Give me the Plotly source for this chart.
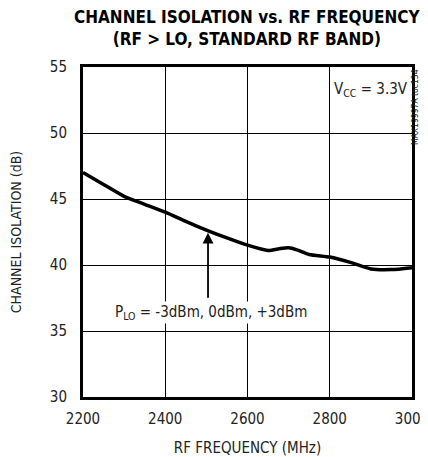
import plotly.graph_objects as go

freq = [2200, 2250, 2300, 2350, 2400, 2450, 2500, 2550, 2600, 2650, 2680, 2700, 2720, 2750, 2800, 2850, 2900, 2950, 3000]
isolation = [47.0, 46.1, 45.2, 44.6, 44.0, 43.3, 42.65, 42.05, 41.5, 41.1, 41.25, 41.3, 41.15, 40.8, 40.6, 40.2, 39.7, 39.65, 39.8]

x_ticks = [2200, 2400, 2600, 2800, 3000]
y_ticks = [30, 35, 40, 45, 50, 55]

FONT = "DejaVu Sans Condensed, Liberation Sans Narrow, sans-serif"

fig = go.Figure()
fig.add_trace(go.Scatter(x=freq, y=isolation, mode="lines",
                         line=dict(color="black", width=3.5, shape="spline", smoothing=0.6),
                         showlegend=False, hoverinfo="skip"))

fig.update_xaxes(range=[2200, 3000], tickvals=x_ticks, showgrid=True, gridcolor="black", gridwidth=1,
                 showline=True, linecolor="black", linewidth=3, mirror=True, ticks="",
                 tickfont=dict(family=FONT, size=15, color="#222"), automargin=False,
                 ticklabelstandoff=6,
                 title=dict(text="RF FREQUENCY (MHz)", font=dict(family=FONT, size=15, color="#222"), standoff=16),
                 zeroline=False)
fig.update_yaxes(range=[30, 55], tickvals=y_ticks, showgrid=True, gridcolor="black", gridwidth=1,
                 showline=True, linecolor="black", linewidth=3, mirror=True, ticks="",
                 tickfont=dict(family=FONT, size=15, color="#222"), automargin=False,
                 ticklabelstandoff=10,
                 title=dict(text="CHANNEL ISOLATION (dB)", font=dict(family=FONT, size=14, color="#222"), standoff=34),
                 zeroline=False)

fig.add_annotation(x=0.5, xref="paper", y=1.0, yref="paper", yshift=16, yanchor="bottom",
                   text="<b>CHANNEL ISOLATION vs. RF FREQUENCY<br>(RF > LO, STANDARD RF BAND)</b>",
                   showarrow=False, font=dict(family=FONT, size=17, color="black"))
fig.add_annotation(x=2995, y=54.2, xanchor="right", yanchor="top",
                   text="V<sub>CC</sub> = 3.3V", showarrow=False,
                   font=dict(family=FONT, size=15, color="#222"), bgcolor="white")
fig.add_annotation(x=2511, y=36.4, xanchor="center", yanchor="middle",
                   text="P<sub>LO</sub> = -3dBm, 0dBm, +3dBm", showarrow=False,
                   font=dict(family=FONT, size=15, color="#222"), bgcolor="white")
fig.add_annotation(x=2504, y=42.45, ax=2504, ay=37.4, axref="x", ayref="y",
                   text="", showarrow=True, arrowhead=2, arrowsize=1.2, arrowwidth=1.8, arrowcolor="black")
fig.add_annotation(x=1.0, xref="paper", xshift=10, y=1.0, yref="paper", yanchor="top",
                   text="MAX19997A toc134", textangle=-90, showarrow=False,
                   font=dict(family=FONT, size=8.5, color="#222"))

# the page body adds an 8px offset; compensate in margins
fig.update_layout(width=428, height=457, margin=dict(l=75, r=24, t=59, b=68),
                  plot_bgcolor="white", paper_bgcolor="white")
fig.write_html("out.html")
